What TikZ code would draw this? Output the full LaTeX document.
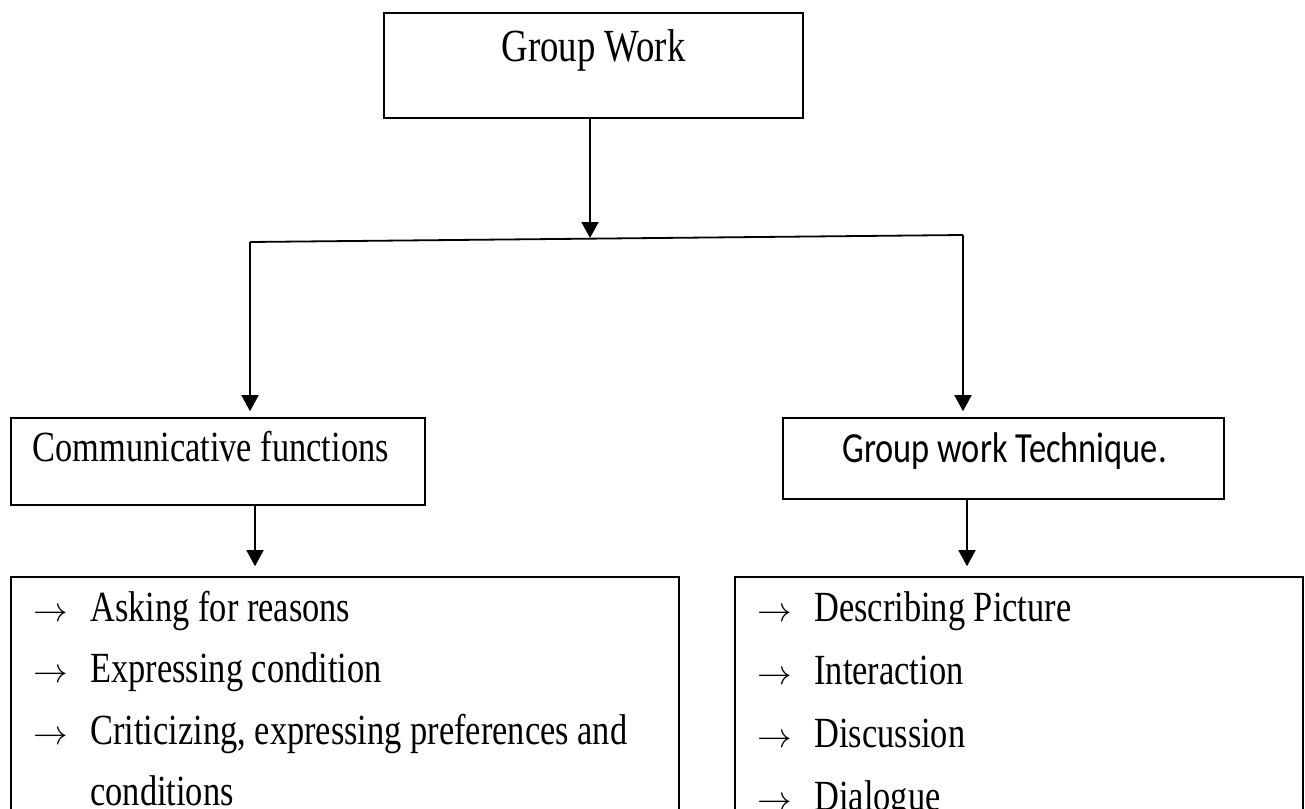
\documentclass[tikz,border=0pt]{standalone}
\usepackage{fontspec}
\setmainfont{Liberation Serif}[FakeStretch=0.8]
\newfontfamily\calibrifont{Carlito}[FakeStretch=0.8]
\usetikzlibrary{arrows.meta,fit}
\begin{document}
\begin{tikzpicture}[x=0.5pt,y=-0.5pt,
  box/.style={draw, line width=0.8pt, inner sep=0pt},
  txt/.style={anchor=base west, inner sep=0pt, font=\fontsize{21.5}{24}\selectfont},
  bul/.style={anchor=base west, inner sep=0pt, font=\fontsize{17}{20}\selectfont},
  bigtxt/.style={anchor=base, inner sep=0pt, font=\fontsize{23}{26}\selectfont},
  conn/.style={line width=0.9pt},
  arr/.style={line width=0.9pt, -{Triangle[length=8pt,width=8.5pt]}}
]
\useasboundingbox (0,0) rectangle (1305,808);
\clip (0,0) rectangle (1305,808);

% boxes
\node[box, fit={(384,13)(803,118)}] (top) {};
\node[box, fit={(11,418)(425,505)}] (lm) {};
\node[box, fit={(783,418)(1224,499)}] (rm) {};
\node[box, fit={(11,577)(679,840)}] (lb) {};
\node[box, fit={(735,577)(1303,840)}] (rb) {};

% texts
\node[bigtxt] (tTop) at (593.5,62) {Group Work};
\node[txt] (tLm) at (32,461) {Communicative functions};
\node[txt, font=\fontsize{21.5}{24}\calibrifont] (tRm) at (842,462) {Group work Technique.};

\node[bul] (la1) at (33,621) {$\rightarrow$};
\node[txt] (lt1) at (90,621) {Asking for reasons};
\node[bul] (la2) at (33,682) {$\rightarrow$};
\node[txt] (lt2) at (90,682) {Expressing condition};
\node[bul] (la3) at (33,744) {$\rightarrow$};
\node[txt] (lt3) at (90,744) {Criticizing, expressing preferences and};
\node[txt] (lt4) at (90,805) {conditions};

\node[bul] (ra1) at (757,621) {$\rightarrow$};
\node[txt] (rt1) at (814,621) {Describing Picture};
\node[bul] (ra2) at (757,684) {$\rightarrow$};
\node[txt] (rt2) at (814,684) {Interaction};
\node[bul] (ra3) at (757,747) {$\rightarrow$};
\node[txt] (rt3) at (814,747) {Discussion};
\node[bul] (ra4) at (757,810) {$\rightarrow$};
\node[txt] (rt4) at (814,810) {Dialogue};

% connectors
\coordinate (j) at (590,238);
\coordinate (jl) at (250,242);
\coordinate (jr) at (963,235);
\coordinate (sl) at (255,0);
\coordinate (sr) at (967,0);

\draw[arr] (top.south -| j) -- (j);
\draw[conn] (jl) -- (jr);
\draw[arr, shorten >=3pt] (jl) -- (lm.north -| jl);
\draw[arr, shorten >=3pt] (jr) -- (rm.north -| jr);
\draw[arr, shorten >=5pt] (lm.south -| sl) -- (lb.north -| sl);
\draw[arr, shorten >=5pt] (rm.south -| sr) -- (rb.north -| sr);
\end{tikzpicture}
\end{document}
